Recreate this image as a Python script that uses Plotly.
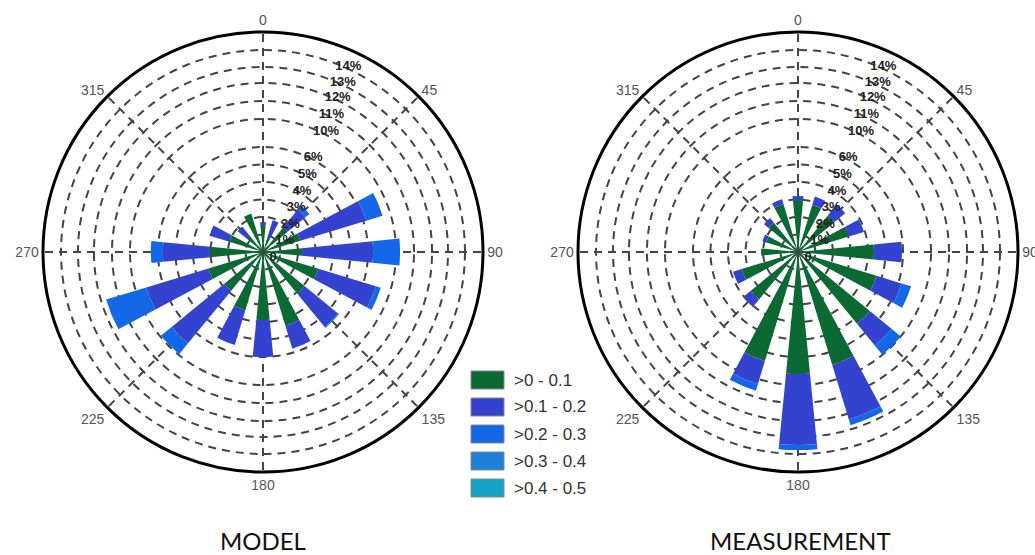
import plotly.graph_objects as go

# Wind direction sectors (degrees, clockwise from north)
directions = [0, 22.5, 45, 67.5, 90, 112.5, 135, 157.5,
              180, 202.5, 225, 247.5, 270, 292.5, 315, 337.5]

# Speed classes and their colours
speed_bins = [">0 - 0.1", ">0.1 - 0.2", ">0.2 - 0.3", ">0.3 - 0.4", ">0.4 - 0.5"]
bin_colors = ["#0B6A33", "#3343D0", "#1468E8", "#1E80D8", "#15A3C8"]

# MODEL: frequency per sector for each speed class
model_b1 = [1.54, 0.86, 1.83, 2.23, 2.23, 3.31, 3.09, 4.40,
            3.89, 3.49, 2.86, 3.26, 3.03, 2.00, 1.14, 2.29]
model_b2 = [0.17, 1.03, 1.31, 3.94, 4.06, 3.43, 2.46, 1.37,
            2.11, 2.06, 3.89, 3.71, 2.69, 1.20, 0.74, 0.00]
model_b3 = [0.00, 0.00, 0.29, 0.97, 1.54, 0.29, 0.06, 0.00,
            0.00, 0.00, 0.80, 2.40, 0.69, 0.00, 0.00, 0.00]
model_b4 = [0, 0, 0, 0, 0, 0, 0, 0, 0, 0, 0, 0, 0, 0, 0, 0]
model_b5 = [0, 0, 0, 0, 0, 0, 0, 0, 0, 0, 0, 0, 0, 0, 0, 0]

# MEASUREMENT: frequency per sector for each speed class
meas_b1 = [2.97, 2.80, 2.69, 3.03, 4.34, 4.69, 5.31, 6.74,
           6.97, 6.51, 3.49, 3.37, 2.11, 1.89, 2.17, 2.86]
meas_b2 = [0.23, 0.51, 0.80, 0.91, 1.60, 1.49, 1.60, 3.26,
           4.06, 1.37, 0.57, 0.51, 0.00, 0.23, 0.34, 0.29]
meas_b3 = [0.00, 0.00, 0.00, 0.00, 0.00, 0.57, 0.69, 0.34,
           0.29, 0.40, 0.00, 0.00, 0.00, 0.00, 0.00, 0.00]
meas_b4 = [0, 0, 0, 0, 0, 0, 0, 0, 0, 0, 0, 0, 0, 0, 0, 0]
meas_b5 = [0, 0, 0, 0, 0, 0, 0, 0, 0, 0, 0, 0, 0, 0, 0, 0]

# Radial rings and their labels
ring_values = [0, 1, 2, 3, 4, 5, 6, 7.6, 8.63, 9.66, 10.57, 11.54]
ring_labels = ["0", "1%", "2%", "3%", "4%", "5%", "6%",
               "10%", "11%", "12%", "13%", "14%"]
radial_max = 12.57

# Compass tick labels
compass_values = [0, 45, 90, 135, 180, 225, 270, 315]
compass_labels = ["0", "45", "90", "135", "180", "225", "270", "315"]

panel_titles = ["MODEL", "MEASUREMENT"]

model_series = [model_b1, model_b2, model_b3, model_b4, model_b5]
meas_series = [meas_b1, meas_b2, meas_b3, meas_b4, meas_b5]

fig = go.Figure()
for subplot, series in (("polar", model_series), ("polar2", meas_series)):
    for name, color, values in zip(speed_bins, bin_colors, series):
        fig.add_trace(go.Barpolar(
            r=values, theta=directions, width=11.25, name=name,
            marker=dict(color=color, line=dict(width=0)),
            subplot=subplot, showlegend=False,
        ))

W, H = 1035, 555
R = 220


def polar_layout(cx, cy):
    return dict(
        domain=dict(x=[(cx - R) / W, (cx + R) / W],
                    y=[1 - (cy + R) / H, 1 - (cy - R) / H]),
        bgcolor="white",
        barmode="stack",
        angularaxis=dict(
            rotation=90, direction="clockwise",
            tickmode="array", tickvals=compass_values, ticktext=compass_labels,
            ticks="", tickfont=dict(family="Arial", size=14, color="#555"),
            showline=True, linecolor="black", linewidth=3,
            showgrid=True, gridcolor="#444", gridwidth=2, griddash="8px,6px",
        ),
        radialaxis=dict(
            range=[0, radial_max],
            tickmode="array", tickvals=ring_values, ticktext=ring_labels,
            ticks="", showline=False, angle=71, tickangle=71,
            tickfont=dict(family="Arial", size=13, color="#222", weight="bold"),
            showgrid=True, gridcolor="#444", gridwidth=2, griddash="8px,6px",
        ),
    )


fig.update_layout(
    width=W, height=H,
    margin=dict(l=0, r=0, t=0, b=0),
    paper_bgcolor="white",
    plot_bgcolor="white",
    polar=polar_layout(263, 252),
    polar2=polar_layout(798, 252),
    showlegend=False,
)

# Panel titles
for cx, title in zip((263, 800), panel_titles):
    fig.add_annotation(
        x=cx / W, y=1 - 540 / H, xref="paper", yref="paper",
        text=title, showarrow=False, xanchor="center", yanchor="middle",
        font=dict(family="Lato", size=24, color="#111"),
    )

# Legend: colour swatches with speed-class labels
for i, (name, color) in enumerate(zip(speed_bins, bin_colors)):
    yc = 380 + 27 * i
    fig.add_shape(
        type="rect", xref="paper", yref="paper",
        x0=471 / W, x1=504 / W, y0=1 - (yc + 9) / H, y1=1 - (yc - 9) / H,
        fillcolor=color, line=dict(color="#888", width=1),
    )
    fig.add_annotation(
        x=512 / W, y=1 - yc / H, xref="paper", yref="paper",
        text=name, showarrow=False, xanchor="left", yanchor="middle",
        font=dict(family="Arial", size=17, color="#333"),
    )

fig.write_html("out.html")
